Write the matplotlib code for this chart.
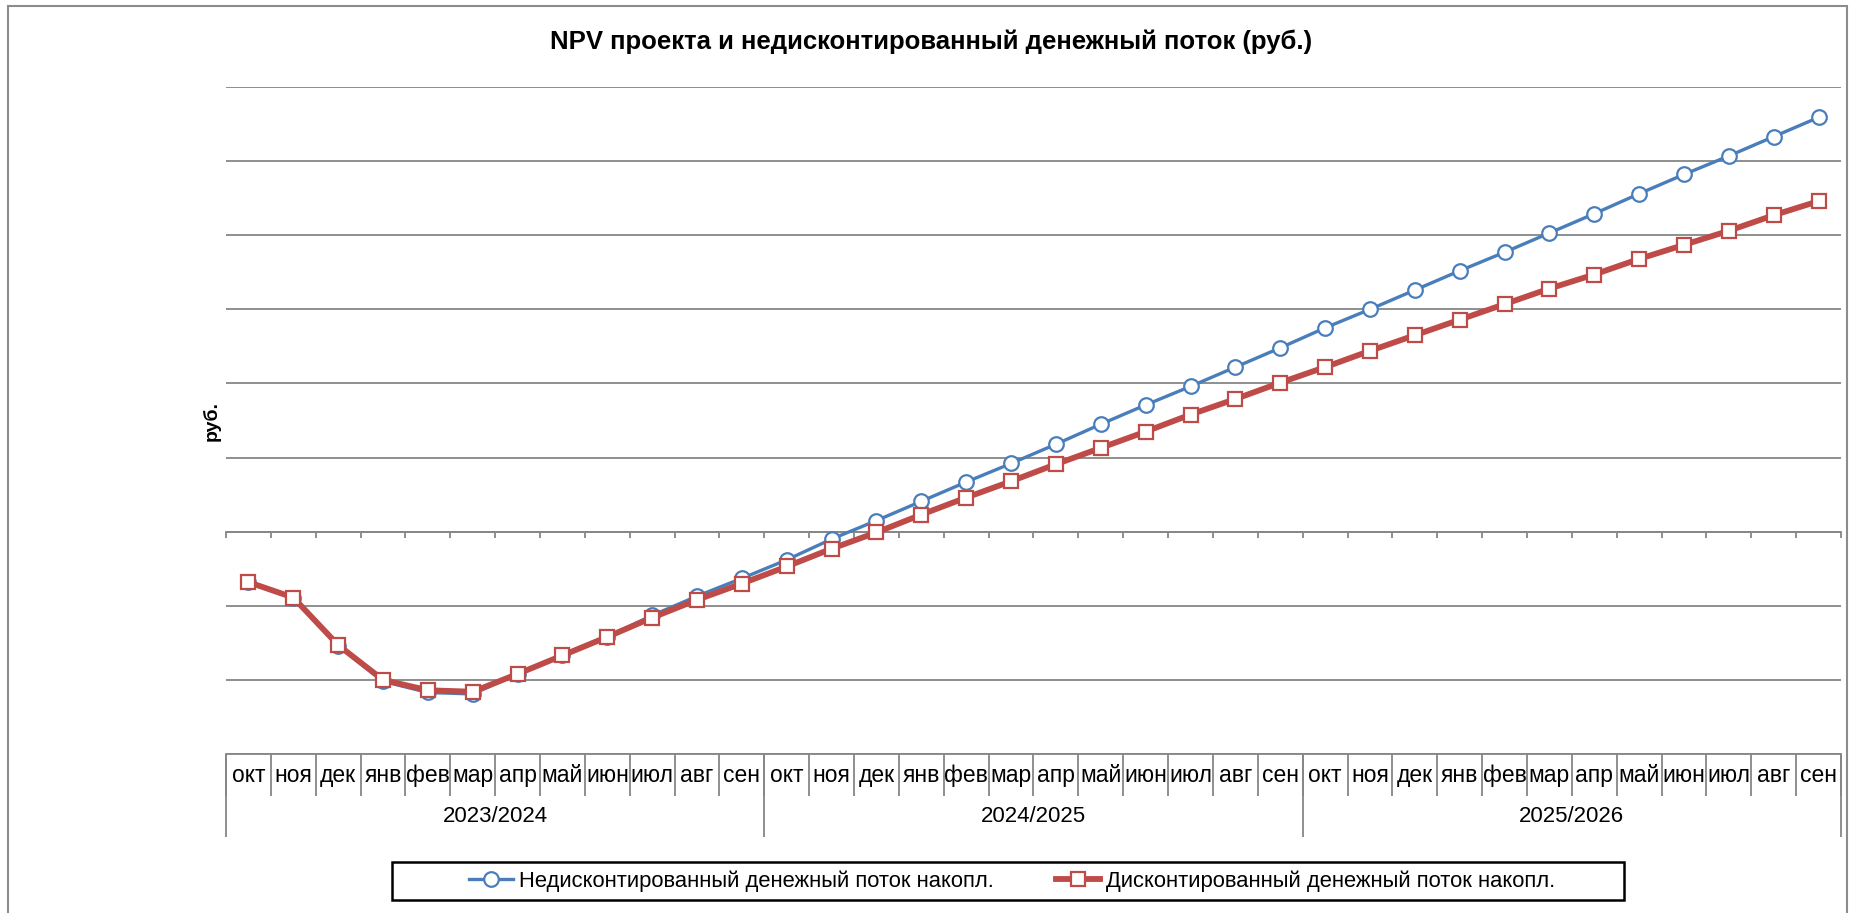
import matplotlib.pyplot as plt
from matplotlib.patches import Rectangle
import numpy as np

# подписи месяцев и лет
months = ["окт", "ноя", "дек", "янв", "фев", "мар", "апр", "май", "июн", "июл", "авг", "сен"] * 3
years = ["2023/2024", "2024/2025", "2025/2026"]

# денежные потоки накопленные, тыс. руб. (значения оси скрыты на оригинале)
undiscounted = [-681, -889, -1545, -2020, -2170, -2190, -1920, -1670, -1420, -1130, -870, -630,
                -380, -100, 150, 410, 670, 920, 1180, 1450, 1710, 1960, 2220, 2480,
                2750, 3000, 3260, 3520, 3770, 4030, 4290, 4560, 4820, 5070, 5330, 5590]
discounted = [-681, -889, -1530, -2000, -2140, -2160, -1920, -1670, -1420, -1160, -920, -700,
              -470, -230, -10, 230, 460, 680, 910, 1130, 1350, 1580, 1790, 2010,
              2220, 2440, 2650, 2860, 3070, 3280, 3470, 3680, 3870, 4060, 4270, 4460]

labels = ["Недисконтированный денежный поток накопл.", "Дисконтированный денежный поток накопл."]

plt.rcParams["font.family"] = ["Liberation Sans", "DejaVu Sans"]

fig = plt.figure(figsize=(18.62, 9.13), dpi=100)
ax = fig.add_axes([226 / 1862, 1 - 754 / 913, (1841 - 226) / 1862, (754 - 87) / 913])

x = np.arange(len(months)) + 0.5
l1, = ax.plot(x, undiscounted, color="#4A7EBB", lw=2.4, marker="o", ms=10.5,
              mfc="white", mec="#4A7EBB", mew=1.6, zorder=4)
l2, = ax.plot(x, discounted, color="#BE4B48", lw=4.2, marker="s", ms=9.5,
              mfc="white", mec="#BE4B48", mew=1.6, zorder=5)

ax.set_xlim(0, len(months))
ax.set_ylim(-3000, 6000)
ax.set_yticks(np.arange(-3000, 6001, 1000))
ax.yaxis.grid(True, color="#868686", lw=1.3)
ax.set_axisbelow(True)
ax.tick_params(axis="y", length=0, labelleft=False)
ax.tick_params(axis="x", length=0, labelbottom=False)
for s in ["top", "left", "right"]:
    ax.spines[s].set_visible(False)
ax.spines["bottom"].set_color("#868686")
ax.spines["bottom"].set_linewidth(1.3)

# ось категорий проходит через ноль
sec = ax.secondary_xaxis(1 / 3)
sec.set_xticks(np.arange(len(months) + 1))
sec.tick_params(direction="out", length=4, color="#868686", width=1.3, labelbottom=False)
sec.spines["bottom"].set_color("#868686")
sec.spines["bottom"].set_linewidth(1.3)

# таблица подписей под графиком
tr = ax.get_xaxis_transform()
ax.vlines(np.arange(len(months) + 1), -0.063, 0, transform=tr, color="#868686", lw=1.3, clip_on=False)
ax.vlines(np.arange(0, len(months) + 1, 12), -0.1245, 0, transform=tr, color="#868686", lw=1.3, clip_on=False)
for i, m in enumerate(months):
    ax.text(i + 0.5, -0.0315, m, transform=tr, ha="center", va="center", fontsize=16.5)
for j, y in enumerate(years):
    ax.text(j * 12 + 6, -0.093, y, transform=tr, ha="center", va="center", fontsize=16)

ax.set_ylabel("руб.", fontsize=14, fontweight="bold", labelpad=4)
fig.text(0.5, 1 - 42 / 913, "NPV проекта и недисконтированный денежный поток (руб.)",
         ha="center", va="center", fontsize=18.5, fontweight="bold")

# легенда
fig.patches.append(Rectangle((392 / 1862, 1 - 900 / 913), (1624 - 392) / 1862, 38 / 913,
                             transform=fig.transFigure, fill=False, edgecolor="black", lw=1.8))
fig.legend([l1, l2], labels, loc="center left", bbox_to_anchor=(469 / 1862, 1 - 881 / 913),
           ncol=2, frameon=False, fontsize=15.8, borderpad=0, borderaxespad=0,
           handlelength=2.0, handletextpad=0.3, columnspacing=2.8)

# рамка диаграммы
fig.patches.append(Rectangle((8 / 1862, -0.01), (1847 - 8) / 1862, 1.01 - 6 / 913,
                             transform=fig.transFigure, fill=False, edgecolor="#8c8c8c", lw=1.5))

fig.savefig("out.png", dpi=100)
